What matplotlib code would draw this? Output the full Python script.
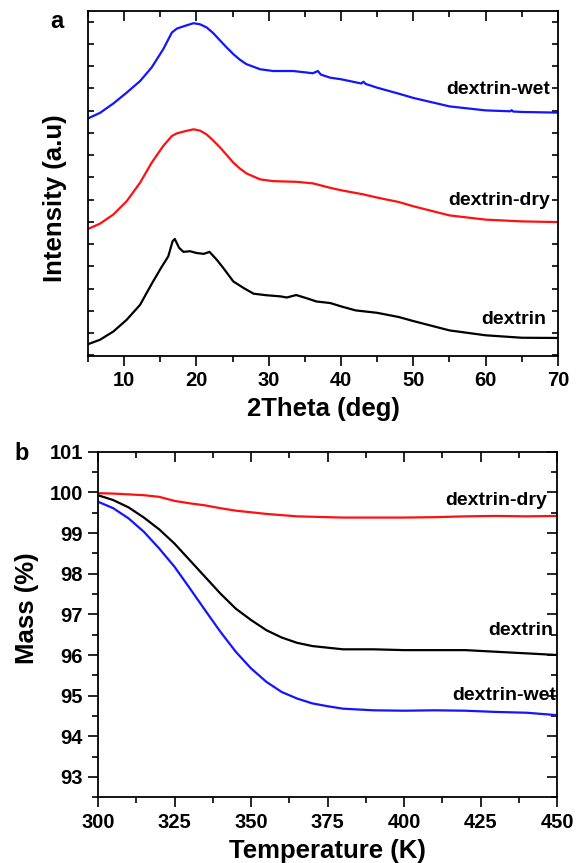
import matplotlib
matplotlib.use("Agg")
import matplotlib.pyplot as plt
from matplotlib.ticker import MultipleLocator, NullFormatter

plt.rcParams['font.family'] = ['Liberation Sans', 'DejaVu Sans']
plt.rcParams['font.weight'] = 'bold'

# ---- panel a: XRD (offset, arbitrary units) ----
theta_wet = [5, 6.66, 8.5, 10.35, 12.2, 13.8, 15.4, 16.6, 17.3, 18.5, 19.6, 20.5, 21.4, 22.3,
             23.3, 24.2, 25.1, 26, 26.9, 28.8, 30.6, 33.4, 36.1, 36.8, 37.2, 38.5, 40, 42.8,
             43.1, 43.4, 45, 48, 50, 55, 60, 63.4, 63.6, 63.8, 65, 70]
int_wet = [10.65, 10.90, 11.32, 11.81, 12.33, 12.94, 13.76, 14.51, 14.69, 14.82, 14.93, 14.88,
           14.74, 14.49, 14.14, 13.83, 13.54, 13.29, 13.09, 12.86, 12.78, 12.78, 12.68, 12.78,
           12.62, 12.48, 12.41, 12.22, 12.30, 12.20, 12.03, 11.76, 11.57, 11.19, 11.01, 10.97,
           11.02, 10.96, 10.94, 10.91]

theta_dry = [5, 6.66, 8.5, 10.35, 12.2, 13.8, 15.4, 16.6, 17.3, 18.5, 19.6, 20.5, 21.4, 22.3,
             23.3, 24.2, 25.1, 26, 26.9, 28.8, 30.6, 33.8, 36.1, 38.5, 40, 43, 45, 48, 50, 55,
             60, 65, 70]
int_dry = [5.68, 5.92, 6.33, 6.93, 7.76, 8.66, 9.41, 9.86, 9.98, 10.08, 10.16, 10.10, 9.93,
           9.66, 9.33, 9.00, 8.66, 8.40, 8.18, 7.91, 7.83, 7.80, 7.73, 7.53, 7.42, 7.24, 7.09,
           6.89, 6.70, 6.29, 6.10, 6.02, 5.99]

theta_dex = [5, 6.66, 8.5, 10.35, 12.2, 13.1, 14.0, 15.1, 16.1, 16.7, 17.0, 17.6, 18.2, 19.1,
             20.0, 21.0, 21.8, 22.8, 23.7, 25.1, 26.5, 27.9, 29.7, 31.6, 32.5, 33.8, 35.2,
             36.6, 38.5, 40, 42, 45, 48, 50, 55, 60, 65, 70]
int_dex = [0.50, 0.70, 1.07, 1.60, 2.27, 2.80, 3.32, 3.93, 4.45, 5.13, 5.23, 4.83, 4.65, 4.68,
           4.60, 4.56, 4.65, 4.30, 3.93, 3.32, 3.03, 2.77, 2.70, 2.65, 2.60, 2.71, 2.57, 2.42,
           2.35, 2.20, 2.02, 1.91, 1.72, 1.54, 1.12, 0.90, 0.79, 0.78]

# ---- panel b: TGA ----
temp = [300, 305, 310, 315, 320, 325, 330, 335, 340, 345, 350, 355, 360, 365, 370, 375, 380,
        390, 400, 410, 420, 430, 440, 450]
mass_dry = [99.98, 99.97, 99.95, 99.93, 99.89, 99.79, 99.73, 99.68, 99.61, 99.55, 99.51, 99.47,
            99.44, 99.41, 99.40, 99.39, 99.38, 99.38, 99.38, 99.39, 99.41, 99.42, 99.41, 99.42]
mass_dex = [99.93, 99.81, 99.63, 99.38, 99.09, 98.74, 98.33, 97.92, 97.51, 97.14, 96.86, 96.61,
            96.43, 96.30, 96.22, 96.18, 96.14, 96.14, 96.12, 96.12, 96.12, 96.08, 96.04, 96.00]
mass_wet = [99.77, 99.61, 99.36, 99.03, 98.62, 98.17, 97.64, 97.10, 96.57, 96.08, 95.67, 95.34,
            95.09, 94.93, 94.81, 94.74, 94.68, 94.64, 94.63, 94.64, 94.63, 94.60, 94.58, 94.52]

fig = plt.figure(figsize=(5.83, 8.63), dpi=100)

tick_fs = 14.5
lab_fs = 18.5
txt_fs = 14
lw = 1.6


def style_axes(ax):
    for sp in ax.spines.values():
        sp.set_linewidth(1.3)
    ax.tick_params(axis='x', which='both', bottom=True, top=True, direction='out', width=1.2,
                   labelsize=tick_fs, pad=4)
    ax.tick_params(axis='x', which='major', length=7)
    ax.tick_params(axis='x', which='minor', length=4)


# panel a
ax1 = fig.add_axes([0.151, 0.5875, 0.806, 0.3998])
ax1.plot(theta_wet, int_wet, color='#1414ff', lw=lw)
ax1.plot(theta_dry, int_dry, color='#ff1010', lw=lw)
ax1.plot(theta_dex, int_dex, color='black', lw=lw)
ax1.set_xlim(5, 70)
ax1.set_ylim(-0.03, 15.48)
ax1.xaxis.set_major_locator(MultipleLocator(10))
ax1.xaxis.set_minor_locator(MultipleLocator(5))
ax1.yaxis.set_major_locator(MultipleLocator(1))
ax1.yaxis.set_major_formatter(NullFormatter())
style_axes(ax1)
ax1.tick_params(axis='y', which='both', left=True, right=True, direction='in', length=4, width=1.2)
ax1.set_xlabel('2Theta (deg)', fontsize=lab_fs, fontweight='bold', labelpad=5)
ax1.set_ylabel('Intensity (a.u)', fontsize=lab_fs, fontweight='bold')
ax1.yaxis.set_label_coords(-0.045, 0.458)
ax1.text(0.984, 11.94, 'dextrin-wet', transform=ax1.get_yaxis_transform(), ha='right',
         va='center', fontsize=txt_fs, fontweight='bold')
ax1.text(0.984, 6.97, 'dextrin-dry', transform=ax1.get_yaxis_transform(), ha='right',
         va='center', fontsize=txt_fs, fontweight='bold')
ax1.text(0.976, 1.6, 'dextrin', transform=ax1.get_yaxis_transform(), ha='right',
         va='center', fontsize=txt_fs, fontweight='bold')
fig.text(57 / 583, 1 - 21 / 863, 'a', fontsize=17, fontweight='bold', ha='center', va='center')

# panel b
ax2 = fig.add_axes([0.168, 0.0761, 0.788, 0.4005])
ax2.plot(temp, mass_dry, color='#ff1010', lw=lw)
ax2.plot(temp, mass_dex, color='black', lw=lw)
ax2.plot(temp, mass_wet, color='#1414ff', lw=lw)
ax2.set_xlim(300, 450)
ax2.set_ylim(92.5, 101)
ax2.xaxis.set_major_locator(MultipleLocator(25))
ax2.xaxis.set_minor_locator(MultipleLocator(12.5))
ax2.yaxis.set_major_locator(MultipleLocator(1))
ax2.yaxis.set_minor_locator(MultipleLocator(0.5))
style_axes(ax2)
ax2.tick_params(axis='y', which='both', left=True, right=True, direction='out', width=1.2,
                labelsize=tick_fs, pad=4)
ax2.tick_params(axis='y', which='major', length=7)
ax2.tick_params(axis='y', which='minor', length=4)
ax2.set_xlabel('Temperature (K)', fontsize=lab_fs, fontweight='bold', labelpad=5)
ax2.set_ylabel('Mass (%)', fontsize=lab_fs, fontweight='bold')
ax2.yaxis.set_label_coords(-0.128, 0.548)
ax2.text(446.6, 99.81, 'dextrin-dry', ha='right', va='center', fontsize=txt_fs, fontweight='bold')
ax2.text(448.5, 96.61, 'dextrin', ha='right', va='center', fontsize=txt_fs, fontweight='bold')
ax2.text(449.5, 95.01, 'dextrin-wet', ha='right', va='center', fontsize=txt_fs, fontweight='bold')
fig.text(22 / 583, 1 - 453 / 863, 'b', fontsize=17, fontweight='bold', ha='center', va='center')

# top/right ticks point inward, bottom/left outward (Origin style)
for ax in (ax1, ax2):
    for tk in ax.xaxis.get_major_ticks() + ax.xaxis.get_minor_ticks():
        tk.tick2line.set_marker(3)  # down from top spine
    for tk in ax.yaxis.get_major_ticks() + ax.yaxis.get_minor_ticks():
        tk.tick2line.set_marker(0)  # left from right spine

fig.savefig('out.png', dpi=100)
